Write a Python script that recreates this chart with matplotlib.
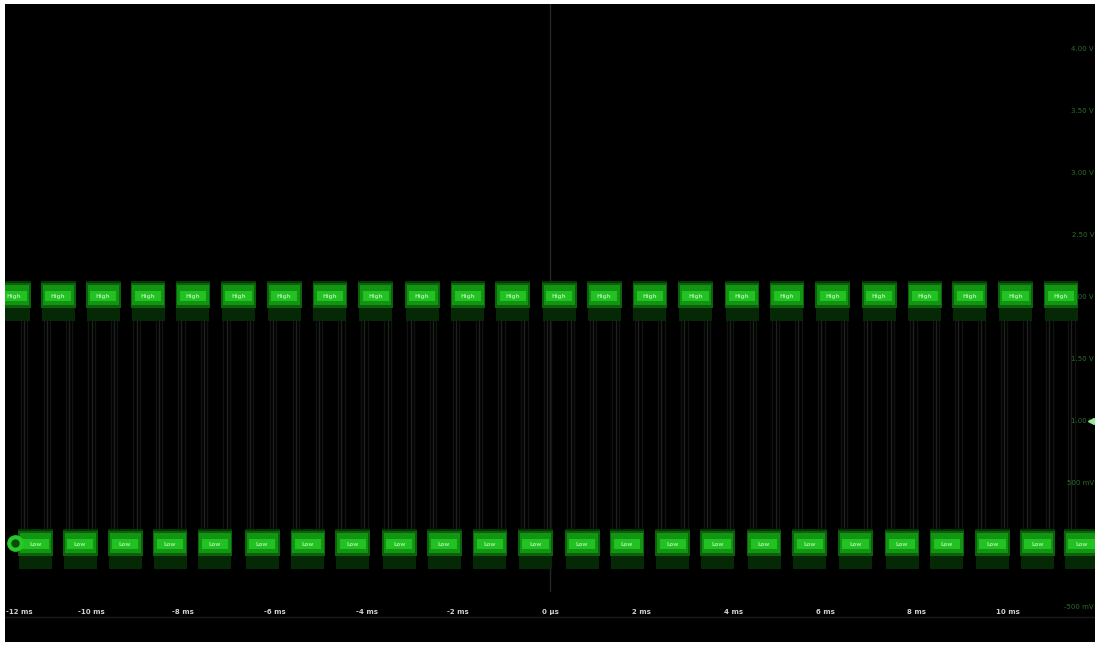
import matplotlib
matplotlib.use("Agg")
import matplotlib.pyplot as plt
from matplotlib.patches import Rectangle

# plateau centres (ms)
high_t = [-11.71, -10.73, -9.75, -8.77, -7.79, -6.80, -5.80, -4.80, -3.80, -2.79,
          -1.79, -0.81, 0.20, 1.18, 2.18, 3.18, 4.19, 5.17, 6.17, 7.18, 8.18, 9.16,
          10.16, 11.15]
low_t = [-11.23, -10.25, -9.27, -8.29, -7.31, -6.28, -5.28, -4.30, -3.29, -2.31,
         -1.31, -0.31, 0.70, 1.68, 2.68, 3.66, 4.67, 5.67, 6.67, 7.68, 8.66, 9.66,
         10.64, 11.60]
high_v = 2.02
low_v = 0.02

x_ticks = [-12, -10, -8, -6, -4, -2, 0, 2, 4, 6, 8, 10]
x_labels = ["-12 ms", "-10 ms", "-8 ms", "-6 ms", "-4 ms", "-2 ms", "0 µs",
            "2 ms", "4 ms", "6 ms", "8 ms", "10 ms"]
# the 0 V label sits under the last blob and is not visible
y_ticks = [4.0, 3.5, 3.0, 2.5, 2.0, 1.5, 1.0, 0.5, -0.5]
y_labels = ["4.00 V", "3.50 V", "3.00 V", "2.50 V", "2.00 V", "1.50 V",
            "1.00 V", "500 mV", "-500 mV"]
trig_v = 1.0

fig = plt.figure(figsize=(10.99, 6.46), dpi=100, facecolor="white")
ax = fig.add_axes([5 / 1099, 4 / 646, 1090 / 1099, 638 / 646])
ax.set_facecolor("black")
ax.set_xlim(-11.89, 11.89)
ax.set_ylim(-0.782, 4.363)
ax.set_xticks([])
ax.set_yticks([])
for s in ax.spines.values():
    s.set_visible(False)

# time zero line and bottom axis line
ax.axvline(0, ymin=0.08, ymax=1, color="#262626", lw=1, zorder=1)
ax.axhline(-0.58, color="#1a1a1a", lw=1, zorder=1)

# transitions (faint persistence lines)
pts = sorted([(t, high_v) for t in high_t] + [(t, low_v) for t in low_t])
for (t0, v0), (t1, v1) in zip(pts[:-1], pts[1:]):
    xe = (t0 + t1) / 2
    for dx, c in [(-0.07, "#111411"), (0, "#1f221f"), (0.07, "#111411")]:
        ax.plot([xe + dx, xe + dx], [min(v0, v1) + 0.09, max(v0, v1) - 0.12],
                color=c, lw=1, zorder=2)


def blob(t, v, txt):
    layers = [
        (0.36, -0.21, -0.09, "#052905"),   # tail below
        (0.38, 0.08, 0.11, "#063806"),     # soft top edge
        (0.38, -0.11, 0.09, "#0b620b"),
        (0.34, -0.085, 0.075, "#129512"),
        (0.29, -0.055, 0.025, "#22c222"),
    ]
    for i, (hw, y0, y1, c) in enumerate(layers):
        ax.add_patch(Rectangle((t - hw, v + y0), 2 * hw, y1 - y0,
                               color=c, lw=0, zorder=3 + i))
    ax.text(t, v - 0.015, txt, color="#9fe89f", fontsize=4, ha="center",
            va="center", fontweight="bold", zorder=9)


for t in high_t:
    blob(t, high_v, "High")
for t in low_t:
    blob(t, low_v, "Low")

# x labels
for t, lab in zip(x_ticks, x_labels):
    xt = max(t, -11.89 + 0.32)
    ax.text(xt, -0.54, lab, color="#d0d0d0", fontsize=5, ha="center",
            va="center", fontweight="bold", zorder=10)

# y labels on the right
for v, lab in zip(y_ticks, y_labels):
    ax.text(11.87, v, lab, color="#2c6e2c", fontsize=5, ha="right",
            va="center", zorder=2)

# ground marker and trigger marker
ax.plot(-11.67, low_v, marker="o", ms=11, color="#27c827", zorder=11)
ax.plot(-11.67, low_v, marker="o", ms=5, color="#0a4a0a", zorder=12)
ax.plot(11.80, trig_v, marker="<", ms=5, color="#9ee89e", zorder=11)

fig.savefig("out.png", dpi=100, facecolor=fig.get_facecolor())
